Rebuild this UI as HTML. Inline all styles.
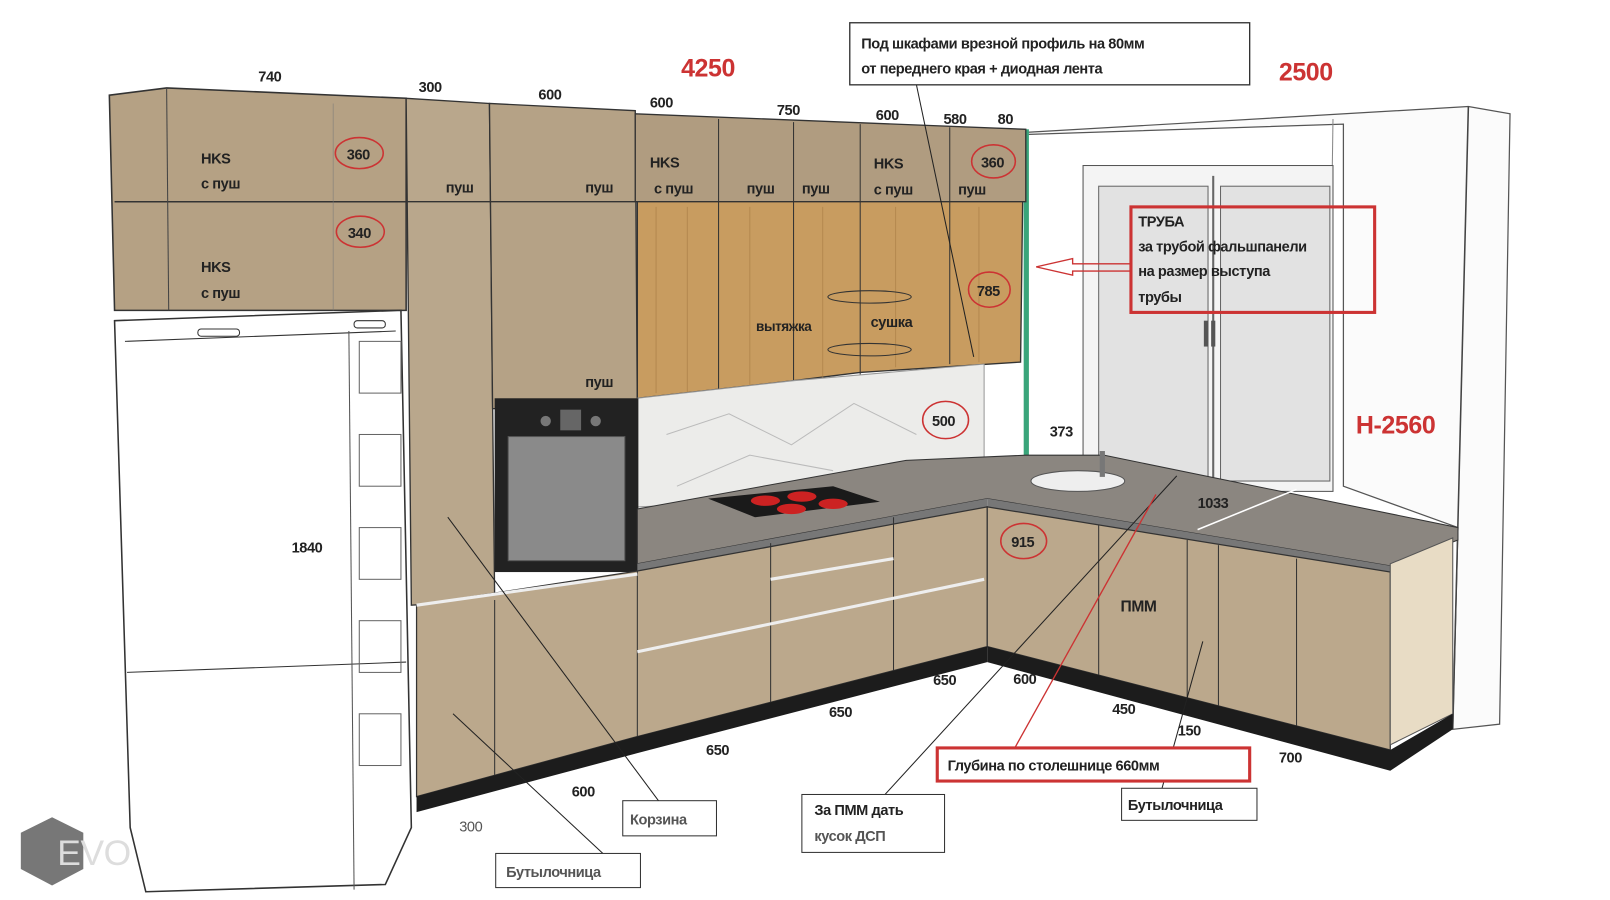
<!DOCTYPE html>
<html><head><meta charset="utf-8"><style>
html,body{margin:0;padding:0;background:#fff;width:1610px;height:900px;overflow:hidden}
svg{display:block}
text{font-family:"Liberation Sans","DejaVu Sans",sans-serif;font-weight:bold;fill:#222;letter-spacing:-0.4px}
</style></head><body>
<svg width="1610" height="900" viewBox="0 0 1546 870" preserveAspectRatio="none" xmlns="http://www.w3.org/2000/svg">
<rect width="1546" height="870" fill="#fff"/>
<polygon points="985,128 1410,103 1450,110 1440,700 1395,705 1400,510 1290,470 1290,120 985,130" fill="#fbfbfb" stroke="#555" stroke-width="1.2"/>
<line x1="1410" y1="103" x2="1395" y2="705" stroke="#444" stroke-width="1.5"/>
<line x1="1280" y1="115" x2="1275" y2="470" stroke="#888"/>
<rect x="1040" y="160" width="240" height="315" fill="#f4f4f4" stroke="#555"/>
<rect x="1055" y="180" width="105" height="285" fill="#e2e2e2" stroke="#666"/>
<rect x="1172" y="180" width="105" height="285" fill="#e2e2e2" stroke="#666"/>
<line x1="1165" y1="170" x2="1165" y2="470" stroke="#666" stroke-width="2"/>
<rect x="1156" y="310" width="4" height="25" fill="#555"/><rect x="1163" y="310" width="4" height="25" fill="#555"/>
<rect x="983" y="125" width="5" height="320" fill="#3aa57a"/>
<polygon points="105,92 160,85 390,95 390,300 110,300" fill="#b5a184" stroke="#333" stroke-width="1.5"/>
<line x1="110" y1="195" x2="390" y2="195" stroke="#333" stroke-width="1.5"/>
<line x1="160" y1="85" x2="162" y2="300" stroke="#444"/>
<line x1="320" y1="100" x2="320" y2="300" stroke="#777" stroke-opacity=".5"/>
<polygon points="390,95 470,100 475,580 395,585" fill="#b9a78c" stroke="#333" stroke-width="1.3"/>
<polygon points="470,100 610,107 612,395 473,395" fill="#b5a286" stroke="#333" stroke-width="1.3"/>
<line x1="390" y1="195" x2="610" y2="195" stroke="#333" stroke-width="1.3"/>
<polygon points="610,110 985,125 985,195 610,195" fill="#b09c80" stroke="#333" stroke-width="1.3"/>
<g stroke="#333" stroke-width="1"><line x1="690" y1="115" x2="690" y2="385"/><line x1="762" y1="118" x2="762" y2="385"/><line x1="826" y1="120" x2="826" y2="385"/><line x1="912" y1="123" x2="912" y2="350"/></g>
<polygon points="612,195 982,195 980,350 826,360 762,368 612,385" fill="#c89c60" stroke="#333" stroke-width="1.3"/>
<g stroke="#a77b45" stroke-width="1" opacity=".6"><line x1="630" y1="200" x2="630" y2="380"/><line x1="660" y1="200" x2="660" y2="380"/><line x1="720" y1="200" x2="720" y2="375"/><line x1="790" y1="200" x2="790" y2="365"/><line x1="860" y1="200" x2="860" y2="355"/><line x1="940" y1="200" x2="940" y2="350"/></g>
<g stroke="#333" stroke-width="1"><line x1="690" y1="195" x2="690" y2="380"/><line x1="762" y1="195" x2="762" y2="370"/><line x1="826" y1="195" x2="826" y2="360"/><line x1="912" y1="195" x2="912" y2="352"/></g>
<ellipse cx="835" cy="287" rx="40" ry="6" fill="none" stroke="#333"/><ellipse cx="835" cy="338" rx="40" ry="6" fill="none" stroke="#333"/>
<polygon points="612,385 762,368 945,352 945,475 612,490" fill="#ececea" stroke="#999"/>
<path d="M640,420 L700,400 L760,430 L820,390 L880,420 M650,470 L720,440 L800,455" stroke="#bbb" fill="none"/>
<rect x="475" y="385" width="138" height="168" fill="#222"/>
<rect x="488" y="422" width="112" height="120" fill="#8a8a8a" stroke="#555"/>
<rect x="538" y="396" width="20" height="20" fill="#666"/><circle cx="524" cy="407" r="5" fill="#777"/><circle cx="572" cy="407" r="5" fill="#777"/>
<polygon points="110,310 385,300 395,800 370,855 140,862 125,800" fill="#fff" stroke="#333" stroke-width="1.5"/>
<line x1="120" y1="330" x2="380" y2="320" stroke="#333"/>
<line x1="122" y1="650" x2="390" y2="640" stroke="#333"/>
<line x1="335" y1="320" x2="340" y2="860" stroke="#555"/>
<rect x="190" y="318" width="40" height="7" rx="3" fill="none" stroke="#333"/>
<rect x="340" y="310" width="30" height="7" rx="3" fill="none" stroke="#333"/>
<g stroke="#666" fill="none"><rect x="345" y="330" width="40" height="50"/><rect x="345" y="420" width="40" height="50"/><rect x="345" y="510" width="40" height="50"/><rect x="345" y="600" width="40" height="50"/><rect x="345" y="690" width="40" height="50"/></g>
<polygon points="612,492 870,445 985,440 1060,440 1400,510 1400,522 1335,547 948,482 612,545" fill="#8b8680" stroke="#333"/>
<polygon points="612,545 948,482 948,490 612,552" fill="#777"/>
<polygon points="948,482 1335,547 1335,553 948,490" fill="#777"/>
<polygon points="680,482 800,470 845,485 725,500" fill="#1a1a1a"/>
<ellipse cx="735" cy="484" rx="14" ry="5" fill="#c22"/><ellipse cx="770" cy="480" rx="14" ry="5" fill="#c22"/><ellipse cx="760" cy="492" rx="14" ry="5" fill="#c22"/><ellipse cx="800" cy="487" rx="14" ry="5" fill="#c22"/>
<ellipse cx="1035" cy="465" rx="45" ry="10" fill="#eee" stroke="#555"/>
<rect x="1056" y="436" width="5" height="25" fill="#777"/>
<polygon points="400,585 612,552 948,490 948,625 612,712 400,770" fill="#bba88c" stroke="#333" stroke-width="1.2"/>
<g stroke="#333"><line x1="475" y1="580" x2="475" y2="755"/><line x1="612" y1="552" x2="612" y2="712"/><line x1="740" y1="525" x2="740" y2="680"/><line x1="858" y1="500" x2="858" y2="650"/></g>
<g stroke="#eee" stroke-width="3"><line x1="400" y1="585" x2="612" y2="555"/><line x1="612" y1="630" x2="945" y2="560"/><line x1="740" y1="560" x2="858" y2="540"/></g>
<polygon points="400,770 612,712 948,625 948,640 612,728 400,785" fill="#1c1c1c"/>
<polygon points="948,490 1335,553 1335,725 948,625" fill="#bba88c" stroke="#333" stroke-width="1.2"/>
<g stroke="#333"><line x1="1055" y1="508" x2="1055" y2="655"/><line x1="1140" y1="522" x2="1140" y2="680"/><line x1="1170" y1="527" x2="1170" y2="688"/><line x1="1245" y1="540" x2="1245" y2="705"/></g>
<polygon points="1335,545 1395,520 1395,690 1335,720" fill="#e8dcc5" stroke="#555"/>
<polygon points="948,625 1335,725 1395,690 1395,705 1335,745 948,640" fill="#1c1c1c"/>
<g stroke="#222" stroke-width="1" fill="none">
<line x1="880" y1="82" x2="935" y2="345"/>
<line x1="430" y1="500" x2="633" y2="775"/>
<line x1="435" y1="690" x2="580" y2="826"/>
<line x1="848" y1="770" x2="1130" y2="460"/>
<line x1="1115" y1="765" x2="1155" y2="620"/>
<line x1="1150" y1="512" x2="1245" y2="473" stroke="#fff" stroke-width="1.5"/>
</g>
<line x1="975" y1="722" x2="1110" y2="478" stroke="#c33" stroke-width="1.3"/>
<polygon points="995,258 1030,250 1030,255 1086,255 1086,262 1030,262 1030,266" fill="none" stroke="#c33" stroke-width="1.3"/>
<g fill="none" stroke="#c33" stroke-width="1.5">
<ellipse cx="345" cy="148" rx="23" ry="15"/><ellipse cx="346" cy="224" rx="23" ry="15"/><ellipse cx="954" cy="156" rx="21" ry="16"/>
<ellipse cx="950" cy="280" rx="20" ry="17"/><ellipse cx="908" cy="406" rx="22" ry="18"/><ellipse cx="983" cy="523" rx="22" ry="17"/>
</g>
<rect x="816" y="22" width="384" height="60" fill="#fff" stroke="#333" stroke-width="1.3"/>
<rect x="1086" y="200" width="234" height="102" fill="none" stroke="#c33" stroke-width="3"/>
<rect x="900" y="723" width="300" height="32" fill="#fff" stroke="#c33" stroke-width="3"/>
<rect x="770" y="768" width="137" height="56" fill="#fff" stroke="#333"/>
<rect x="1077" y="762" width="130" height="31" fill="#fff" stroke="#333"/>
<rect x="598" y="774" width="90" height="34" fill="#fff" stroke="#333"/>
<rect x="476" y="825" width="139" height="33" fill="#fff" stroke="#333"/>
<polygon points="50,790 80,805 80,840 50,856 20,840 20,805" fill="#777"/>
<text x="55" y="836" font-size="34" style="font-weight:normal;fill:#ddd">EVO</text>
<g font-size="14">
<text x="248" y="79">740</text><text x="402" y="89">300</text><text x="517" y="96">600</text>
<text x="624" y="104">600</text><text x="746" y="111">750</text><text x="841" y="116">600</text><text x="906" y="120">580</text><text x="958" y="120">80</text>
<text x="193" y="158">HKS</text><text x="193" y="182">с пуш</text><text x="333" y="154">360</text><text x="334" y="230">340</text>
<text x="193" y="263">HKS</text><text x="193" y="288">с пуш</text>
<text x="428" y="186">пуш</text><text x="562" y="186">пуш</text><text x="624" y="162">HKS</text><text x="628" y="187">с пуш</text>
<text x="717" y="187">пуш</text><text x="770" y="187">пуш</text><text x="839" y="163">HKS</text><text x="839" y="188">с пуш</text>
<text x="942" y="162">360</text><text x="920" y="188">пуш</text><text x="938" y="286">785</text>
<text x="726" y="320" font-size="13">вытяжка</text><text x="836" y="316">сушка</text><text x="562" y="374">пуш</text>
<text x="895" y="412">500</text><text x="1008" y="422">373</text><text x="280" y="534">1840</text><text x="971" y="529">915</text>
<text x="1150" y="491">1033</text><text x="1076" y="591" font-size="15">ПММ</text>
<text x="896" y="662">650</text><text x="973" y="661">600</text><text x="796" y="693">650</text><text x="1068" y="690">450</text>
<text x="1131" y="711">150</text><text x="678" y="730">650</text><text x="1228" y="737">700</text><text x="549" y="770">600</text><text x="441" y="804" style="font-weight:normal;fill:#555">300</text>
<text x="827" y="47">Под шкафами врезной профиль на 80мм</text>
<text x="827" y="71">от переднего края + диодная лента</text>
<text x="1093" y="219">ТРУБА</text><text x="1093" y="243">за трубой фальшпанели</text><text x="1093" y="267">на размер выступа</text><text x="1093" y="292">трубы</text>
<text x="910" y="745">Глубина по столешнице 660мм</text>
<text x="782" y="788">За ПММ дать</text><text x="782" y="813" style="fill:#555">кусок ДСП</text>
<text x="1083" y="783">Бутылочница</text>
<text x="605" y="797" style="fill:#555">Корзина</text>
<text x="486" y="848" style="fill:#555">Бутылочница</text>
</g>
<g font-size="24">
<text x="654" y="74" style="fill:#c33">4250</text><text x="1228" y="78" style="fill:#c33">2500</text><text x="1302" y="419" style="fill:#c33">H-2560</text>
</g>
</svg>
</body></html>
